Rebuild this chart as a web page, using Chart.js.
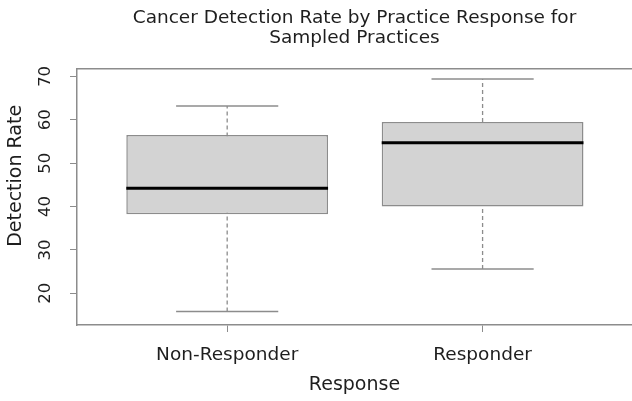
<!DOCTYPE html>
<html>
<head>
<meta charset="utf-8">
<script src="https://cdn.jsdelivr.net/npm/chart.js@4/dist/chart.umd.min.js"></script>
<style>
  html, body { margin: 0; padding: 0; background: #ffffff; }
  #wrap { width: 632px; height: 401px; }
</style>
</head>
<body>
<div id="wrap"><canvas id="chart" width="632" height="401"></canvas></div>
<script>
// Five-number summaries of the detection rate for each response group
const categories = ['Non-Responder', 'Responder'];
const whiskerLow = [15.8, 25.6];
const lowerQuartile = [38.2, 40.0];
const medianValue = [44.2, 54.7];
const upperQuartile = [56.5, 59.5];
const whiskerHigh = [63.2, 69.4];
const yTicks = [20, 30, 40, 50, 60, 70];

const FRAME = '#8c8c8c';
const TEXT = '#1e1e1e';
const BOX_HALF = 0.395;   // half box width, in category units
const CAP_HALF = 0.2;     // half whisker-cap width, in category units

Chart.defaults.font.family = "'DejaVu Sans', sans-serif";
Chart.defaults.color = TEXT;

const datasets = [];

// Boxes: floating bars from lower to upper quartile
datasets.push({
  type: 'bar',
  data: categories.map((c, i) => ({ x: i + 1, y: [lowerQuartile[i], upperQuartile[i]] })),
  backgroundColor: '#d3d3d3',
  borderColor: FRAME,
  borderWidth: 1.5,
  borderSkipped: false,
  barPercentage: BOX_HALF * 2,
  categoryPercentage: 1,
  order: 1
});

categories.forEach((c, i) => {
  const x = i + 1;
  // dashed whisker, drawn behind the box
  datasets.push({
    type: 'line',
    data: [{ x: x, y: whiskerLow[i] }, { x: x, y: whiskerHigh[i] }],
    borderColor: FRAME, borderWidth: 1.3, borderDash: [4, 3],
    pointRadius: 0, fill: false, order: 2
  });
  // whisker caps
  [whiskerLow[i], whiskerHigh[i]].forEach(v => {
    datasets.push({
      type: 'line',
      data: [{ x: x - CAP_HALF, y: v }, { x: x + CAP_HALF, y: v }],
      borderColor: FRAME, borderWidth: 1.5,
      pointRadius: 0, fill: false, order: 2
    });
  });
  // median line
  datasets.push({
    type: 'line',
    data: [{ x: x - BOX_HALF, y: medianValue[i] }, { x: x + BOX_HALF, y: medianValue[i] }],
    borderColor: '#000000', borderWidth: 3,
    pointRadius: 0, fill: false, order: 0
  });
});

new Chart(document.getElementById('chart'), {
  type: 'bar',
  data: { datasets: datasets },
  options: {
    responsive: false,
    animation: false,
    layout: { padding: { left: 0, right: -2, top: 0, bottom: 0 } },
    plugins: {
      legend: { display: false },
      tooltip: { enabled: false },
      title: {
        display: true,
        fullSize: false,
        text: ['Cancer Detection Rate by Practice Response for', 'Sampled Practices'],
        color: TEXT,
        font: { size: 18.5, weight: 'normal', lineHeight: 20 / 18.5 },
        padding: { top: 8.5, bottom: 20.5 }
      }
    },
    scales: {
      x: {
        type: 'linear',
        position: 'bottom',
        min: 0.412,
        max: 2.585,
        offset: false,
        afterBuildTicks: s => { s.ticks = categories.map((c, i) => ({ value: i + 1 })); },
        afterFit: s => { s.height = 76; },
        ticks: {
          callback: v => categories[Math.round(v) - 1],
          font: { size: 18.5 },
          color: TEXT,
          padding: 11.6,
          maxRotation: 0,
          autoSkip: false
        },
        grid: { display: true, drawOnChartArea: false, drawTicks: true, tickLength: 7, color: FRAME, lineWidth: 1, offset: false },
        border: { display: true, color: FRAME, width: 1.5 },
        title: {
          display: true,
          text: 'Response',
          color: TEXT,
          font: { size: 19 },
          padding: { top: 0, bottom: 4.3 }
        }
      },
      xTop: {
        type: 'linear',
        position: 'top',
        min: 0, max: 1,
        afterFit: s => { s.height = 0; },
        ticks: { display: false },
        grid: { display: false, drawTicks: false },
        border: { display: true, color: FRAME, width: 1.5 }
      },
      y: {
        type: 'linear',
        position: 'left',
        min: 12.7,
        max: 71.7,
        afterBuildTicks: s => { s.ticks = yTicks.map(v => ({ value: v })); },
        afterFit: s => { s.width = 77; },
        ticks: {
          font: { size: 16.5 },
          color: TEXT,
          minRotation: 90,
          maxRotation: 90,
          crossAlign: 'center',
          padding: 13.4,
          autoSkip: false
        },
        grid: { display: true, drawOnChartArea: false, drawTicks: true, tickLength: 7, color: FRAME, lineWidth: 1 },
        border: { display: true, color: FRAME, width: 1.5 },
        title: {
          display: true,
          text: '       Detection Rate',
          color: TEXT,
          font: { size: 19 },
          padding: { top: 5, bottom: 0 }
        }
      }
    }
  }
});
</script>
</body>
</html>
